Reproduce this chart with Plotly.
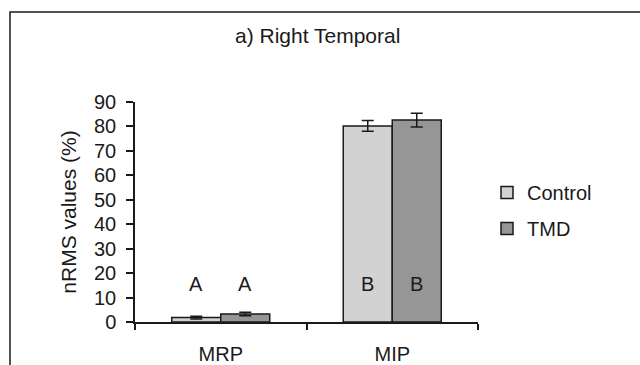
import plotly.graph_objects as go

categories = ["MRP", "MIP"]
control_values = [1.8, 80.2]
control_errors = [0.6, 2.2]
tmd_values = [3.3, 82.6]
tmd_errors = [0.7, 2.8]
control_letters = ["A", "B"]
tmd_letters = ["A", "B"]
letter_level = 15.5
y_ticks = [0, 10, 20, 30, 40, 50, 60, 70, 80, 90]

FONT = "Liberation Sans, Arial, sans-serif"
INK = "#1a1a1a"
FS = 20

fig = go.Figure()
fig.add_trace(go.Bar(
    name="Control", x=categories, y=control_values,
    marker=dict(color="#d2d2d2", line=dict(color=INK, width=1.5)),
    error_y=dict(type="data", array=control_errors, visible=True,
                 color=INK, thickness=1.5, width=6),
    legendgroup="c",
))
fig.add_trace(go.Bar(
    name="TMD", x=categories, y=tmd_values,
    marker=dict(color="#969696", line=dict(color=INK, width=1.5)),
    error_y=dict(type="data", array=tmd_errors, visible=True,
                 color=INK, thickness=1.5, width=6),
    legendgroup="t",
))

bargap = 1.5 / 3.5
offset = (1 - bargap) / 4
for i, (lc, lt) in enumerate(zip(control_letters, tmd_letters)):
    for dx, txt in ((-offset, lc), (offset, lt)):
        fig.add_annotation(x=i + dx, y=letter_level, xref="x", yref="y",
                           text=txt, showarrow=False,
                           font=dict(family=FONT, size=FS, color=INK))

fig.add_annotation(x=(317 - 135) / 343, y=(322 - 35) / 220, xref="paper", yref="paper",
                   text="a) Right Temporal", showarrow=False,
                   xanchor="center", yanchor="middle",
                   font=dict(family=FONT, size=FS + 1, color=INK))

fig.add_shape(type="rect", xref="paper", yref="paper",
              x0=(10 - 135) / 343, x1=2.0, y0=-0.5, y1=(322 - 12) / 220,
              line=dict(color=INK, width=1.5), layer="below")

fig.update_layout(
    width=640, height=365,
    margin=dict(l=135, r=162, t=102, b=43),
    paper_bgcolor="white", plot_bgcolor="white",
    barmode="group", bargap=bargap, bargroupgap=0,
    font=dict(family=FONT, size=FS, color=INK),
    legend=dict(x=(487 - 135) / 343, y=(322 - 173) / 220, xanchor="left", yanchor="top",
                font=dict(family=FONT, size=FS, color=INK), tracegroupgap=7,
                bgcolor="rgba(0,0,0,0)"),
    xaxis=dict(type="category", showline=True, linecolor=INK, linewidth=1.5,
               ticks="outside", ticklen=6, tickwidth=1.5, tickcolor=INK,
               tickson="boundaries", ticklabelstandoff=13, showgrid=False,
               zeroline=False, range=[-0.5, 1.5], automargin=False),
    yaxis=dict(range=[0, 90], tickvals=y_ticks, showline=True, linecolor=INK,
               linewidth=1.5, ticks="outside", ticklen=7, tickwidth=1.5,
               tickcolor=INK, showgrid=False, zeroline=False, ticklabelstandoff=6,
               automargin=False,
               title=dict(text="nRMS values (%)", standoff=12,
                          font=dict(family=FONT, size=FS + 1, color=INK))),
)

fig.write_html("out.html")
